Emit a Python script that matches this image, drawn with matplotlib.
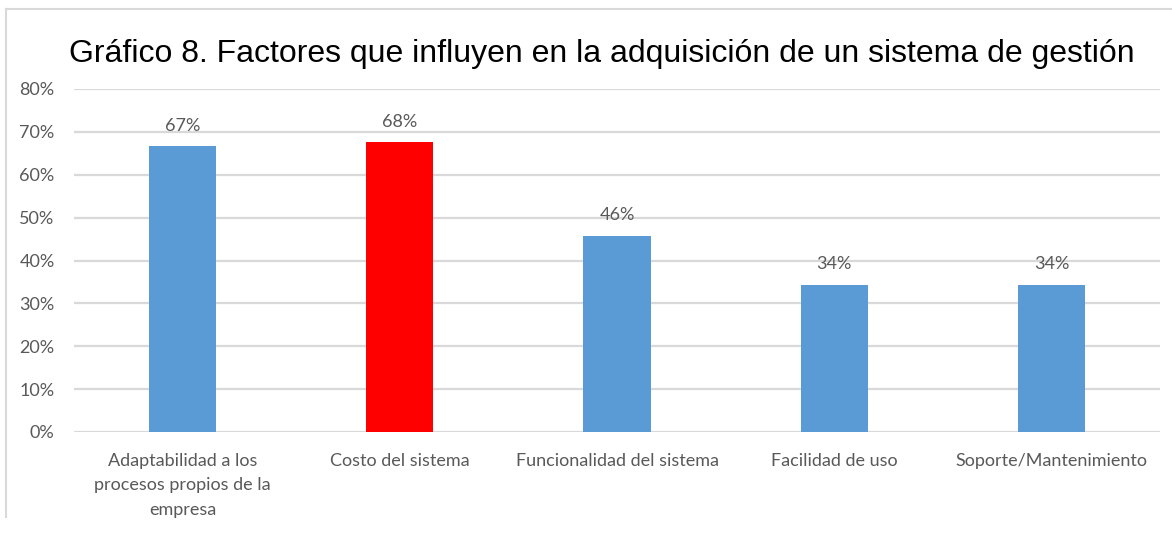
import matplotlib.pyplot as plt
from matplotlib.lines import Line2D
from matplotlib.patches import Rectangle
import numpy as np

# Datos del gráfico
categorias = ['Adaptabilidad a los\nprocesos propios de la\nempresa',
              'Costo del sistema',
              'Funcionalidad del sistema',
              'Facilidad de uso',
              'Soporte/Mantenimiento']
valores = [0.667, 0.676, 0.458, 0.343, 0.343]
colores = ['#5B9BD5', '#FF0000', '#5B9BD5', '#5B9BD5', '#5B9BD5']
ticks_y = [0, 0.1, 0.2, 0.3, 0.4, 0.5, 0.6, 0.7, 0.8]

W, H = 1172, 533
fig = plt.figure(figsize=(W / 100, H / 100), dpi=100)
ax = fig.add_axes([74 / W, (H - 432) / H, (1160 - 74) / W, (432 - 89) / H])

gris = '#595959'
fs = 13
x = np.arange(len(categorias))
ax.bar(x, valores, width=0.31, color=colores, zorder=3)
ax.set_xlim(-0.5, len(categorias) - 0.5)
ax.set_ylim(0, 0.8)

ax.set_yticks(ticks_y)
ax.set_yticklabels(['{:.0%}'.format(t) for t in ticks_y], fontsize=fs,
                   color=gris, family='Lato')
ax.set_xticks(x)
ax.set_xticklabels(categorias, fontsize=fs, color=gris, family='Lato',
                   linespacing=1.65, va='top')
ax.tick_params(axis='both', length=0)
ax.tick_params(axis='x', pad=15)
ax.tick_params(axis='y', pad=14)
ax.grid(axis='y', color='#d9d9d9', linewidth=1.6, zorder=0)
for s in ax.spines.values():
    s.set_visible(False)

for xi, v in zip(x, valores):
    ax.annotate('{:.0%}'.format(v), (xi, v), xytext=(0, 9),
                textcoords='offset points', ha='center', va='bottom',
                fontsize=fs, color=gris, family='Lato')

fig.text(602 / W, 1 - 54 / H,
         'Gráfico 8. Factores que influyen en la adquisición de un sistema de gestión',
         ha='center', va='center', fontsize=23, family='Liberation Sans', color='black')

# Borde del área del gráfico (recortado)
fig.add_artist(Line2D([6 / W, 1], [1 - 9 / H, 1 - 9 / H], color='#d9d9d9', lw=1.5))
fig.add_artist(Line2D([6 / W, 6 / W], [1 - 9 / H, 1 - 518 / H], color='#d9d9d9', lw=1.5))
# recorte inferior de la imagen original
fig.add_artist(Rectangle((0, 0), 1, (H - 518) / H, transform=fig.transFigure,
                         facecolor='white', edgecolor='none', zorder=10))

fig.savefig('out.png', dpi=100)
